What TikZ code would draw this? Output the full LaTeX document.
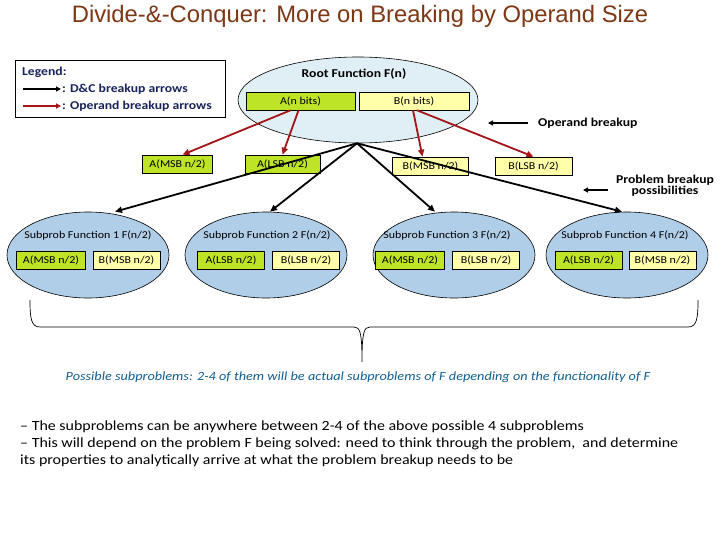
\documentclass[tikz,border=0pt]{standalone}
\usepackage{fontspec}
\setmainfont{Carlito}[FakeStretch=1.14]
\newfontfamily\titlefont{Liberation Sans}
\usetikzlibrary{shapes.geometric,arrows.meta,calc}
\definecolor{titlebrown}{RGB}{125,55,20}
\definecolor{legblue}{RGB}{25,35,90}
\definecolor{capblue}{RGB}{20,95,145}
\definecolor{opred}{RGB}{165,20,25}
\definecolor{boxgreen}{RGB}{190,228,40}
\definecolor{boxyellow}{RGB}{255,255,170}
\definecolor{rootfill}{RGB}{224,238,246}
\definecolor{subfill}{RGB}{176,206,232}
\tikzset{
  gbox/.style={draw=black, line width=0.6pt, fill=boxgreen, minimum height=18pt, inner sep=0pt, font=\fontsize{10.5}{12}\selectfont},
  ybox/.style={draw=black, line width=0.6pt, fill=boxyellow, minimum height=18pt, inner sep=0pt, font=\fontsize{10.5}{12}\selectfont},
  subell/.style={ellipse, draw=black, line width=0.6pt, fill=subfill, minimum width=162pt, minimum height=86pt, inner sep=0pt},
  redarrow/.style={draw=opred, line width=1.8pt, -{Triangle[length=7pt,width=6pt]}},
  blkarrow/.style={draw=black, line width=1.8pt, -{Triangle[length=7pt,width=6pt]}},
  lbl/.style={font=\fontsize{10.5}{12}\selectfont, inner sep=0pt},
  boldlbl/.style={font=\bfseries\fontsize{12}{13}\selectfont, inner sep=0pt},
}
\begin{document}
\begin{tikzpicture}[x=1pt,y=-1pt]
\useasboundingbox (0,0) rectangle (720,540);
\fill[white] (0,0) rectangle (720,540);

% title
\node[font=\titlefont\fontsize{23.8}{25}\selectfont, text=titlebrown, inner sep=0pt] (title) at (360,16) {Divide-\&-Conquer: More on Breaking by Operand Size};

% legend
\node[draw=black, line width=0.8pt, minimum width=210pt, minimum height=57pt, inner sep=0pt] (legend) at (120,88.5) {};
\node[boldlbl, text=legblue, anchor=west] (legtitle) at (22,72) {Legend:};
\coordinate (lb1) at (23,89);
\coordinate (lb2) at (61,89);
\coordinate (lr1) at (23,106);
\coordinate (lr2) at (61,106);
\draw[black, line width=1.4pt, -{Triangle[length=5pt,width=5pt]}] (lb1) -- (lb2);
\draw[opred, line width=1.8pt, -{Triangle[length=5pt,width=5pt]}] (lr1) -- (lr2);
\node[boldlbl, text=legblue, anchor=west] (legdc) at (62,89) {: D\&C breakup arrows};
\node[boldlbl, text=legblue, anchor=west] (legop) at (62,106) {: Operand breakup arrows};

% root
\node[ellipse, draw=black, line width=0.6pt, fill=rootfill, minimum width=240pt, minimum height=86pt, inner sep=0pt] (root) at (358,100) {};
\node[font=\bfseries\fontsize{12}{13}\selectfont, inner sep=0pt] (roottitle) at (354,74) {Root Function F(n)};
\node[gbox, minimum width=109pt] (an) at (300.5,101) {A(n bits)};
\node[ybox, minimum width=110pt] (bn) at (414,101) {B(n bits)};

% mid level boxes
\node[gbox, minimum width=70pt] (amsb) at (177.5,164) {A(MSB n/2)};
\node[gbox, minimum width=75pt] (alsb) at (282.5,164) {A(LSB n/2)};
\node[ybox, minimum width=76pt] (bmsb) at (430.5,166) {B(MSB n/2)};
\node[ybox, minimum width=77pt] (blsb) at (533.5,166) {B(LSB n/2)};

% sub ellipses
\node[subell] (s1) at (88,255) {};
\node[subell] (s2) at (266,255) {};
\node[subell] (s3) at (454,255) {};
\node[subell] (s4) at (627,255) {};
\node[lbl] (s1t) at (88,236) {Subprob Function 1 F(n/2)};
\node[lbl] (s2t) at (267,236) {Subprob Function 2 F(n/2)};
\node[lbl] (s3t) at (447,236) {Subprob Function 3 F(n/2)};
\node[lbl] (s4t) at (625,236) {Subprob Function 4 F(n/2)};
\node[gbox, minimum width=69pt] (s1a) at (51,260) {A(MSB n/2)};
\node[ybox, minimum width=67pt] (s1b) at (126.5,260) {B(MSB n/2)};
\node[gbox, minimum width=67pt] (s2a) at (231,260) {A(LSB n/2)};
\node[ybox, minimum width=67pt] (s2b) at (306,260) {B(LSB n/2)};
\node[gbox, minimum width=69pt] (s3a) at (410,260) {A(MSB n/2)};
\node[ybox, minimum width=67pt] (s3b) at (486,260) {B(LSB n/2)};
\node[gbox, minimum width=67pt] (s4a) at (588.5,260) {A(LSB n/2)};
\node[ybox, minimum width=67pt] (s4b) at (662.5,260) {B(MSB n/2)};

% red operand arrows
\draw[redarrow] ([xshift=-10pt]an.south) -- ([xshift=5pt]amsb.north);
\draw[redarrow] ([xshift=-2pt]an.south) -- (alsb.north);
\draw[redarrow] ([xshift=-1pt]bn.south) -- ([xshift=-8pt]bmsb.north);
\draw[redarrow] ([xshift=3pt]bn.south) -- (blsb.north);

% black D&C arrows
\draw[blkarrow] ([xshift=-1pt]root.south) -- ([xshift=27pt]s1.north);
\draw[blkarrow] ([xshift=-1pt]root.south) -- ([xshift=4pt]s2.north);
\draw[blkarrow] ([xshift=-1pt]root.south) -- ([xshift=-19pt]s3.north);
\draw[blkarrow] ([xshift=-1pt]root.south) -- ([xshift=-5pt]s4.north);

% side notes
\node[boldlbl, anchor=west] (opnote) at (538,123) {Operand breakup};
\coordinate (opa) at (528,123);
\coordinate (opb) at (488,123);
\draw[black, line width=1.4pt, -{Triangle[length=5pt,width=5pt]}] (opa) -- (opb);
\node[boldlbl, align=center] (pbnote) at (665,186) {Problem breakup\\[-2pt]possibilities};
\coordinate (pba) at (608,190);
\coordinate (pbb) at (583,190);
\draw[black, line width=1.4pt, -{Triangle[length=5pt,width=5pt]}] (pba) -- (pbb);

% brace
\draw[black, line width=0.7pt] (30,300) .. controls (30,318) and (31,327) .. (40,327) -- (354,327) .. controls (360,327) and (362,332) .. (362,362) .. controls (362,332) and (364,327) .. (370,327) -- (688,327) .. controls (697,327) and (698,318) .. (698,300);

% caption
\node[font=\itshape\fontsize{12.5}{14}\selectfont, text=capblue, inner sep=0pt] (caption) at (358,377) {Possible subproblems: 2-4 of them will be actual subproblems of F depending on the functionality of F};

% bottom text
\node[font=\fontsize{14}{17}\selectfont, anchor=west, inner sep=0pt] (l1) at (20,427) {-- The subproblems can be anywhere between 2-4 of the above possible 4 subproblems};
\node[font=\fontsize{14}{17}\selectfont, anchor=west, inner sep=0pt] (l2) at (20,444) {-- This will depend on the problem F being solved: need to think through the problem,\ \ and determine};
\node[font=\fontsize{14}{17}\selectfont, anchor=west, inner sep=0pt] (l3) at (20,461) {its properties to analytically arrive at what the problem breakup needs to be};
\end{tikzpicture}
\end{document}
